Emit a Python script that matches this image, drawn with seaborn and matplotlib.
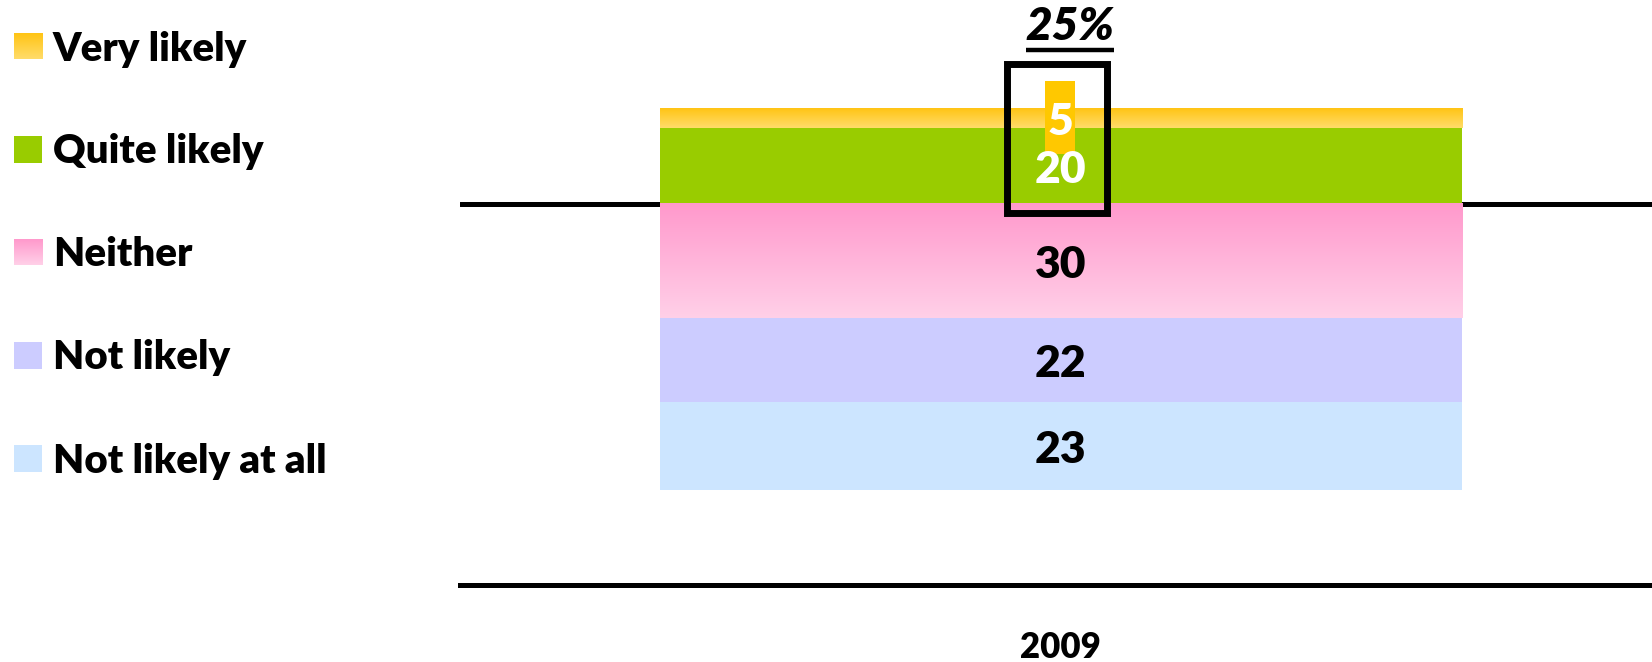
import numpy as np
import matplotlib.pyplot as plt
import seaborn as sns
from matplotlib.colors import LinearSegmentedColormap
from matplotlib.patches import Rectangle

# data
year = ["2009"]
categories = ["Very likely", "Quite likely", "Neither", "Not likely", "Not likely at all"]
values = [5, 20, 30, 22, 23]
signs = [1, 1, -1, -1, -1]          # above / below the zero line
colors = ["#FFC000", "#99CC00", "#FF99CC", "#CCCCFF", "#CCE5FF"]
label_colors = ["white", "white", "black", "black", "black"]
gradients = {"Very likely": ("#FFC414", "#FFDC6A"), "Neither": ("#FF99CC", "#FFD0E8")}
headline = "25%"

sns.set_theme(style="white")
plt.rcParams['font.family'] = ['Lato', 'DejaVu Sans']
plt.rcParams['text.color'] = 'black'
plt.rcParams['xtick.color'] = 'black'
WEIGHT = 'heavy'

W, H = 1652, 662
fig = plt.figure(figsize=(W / 100, H / 100), dpi=100)
ax = fig.add_axes([460 / W, 77 / H, 1192 / W, 585 / H])

# cumulative segments, inner to outer on each side
pos = [i for i, s in enumerate(signs) if s > 0][::-1]
neg = [i for i, s in enumerate(signs) if s < 0]
segments = {}
for side in (pos, neg):
    run = 0
    for i in side:
        segments[i] = (signs[i] * run, signs[i] * (run + values[i]))
        run += values[i]

bar_w = 0.673
z = 1.0
for side in (pos, neg):
    for i in reversed(side):  # outer bars first, inner ones drawn over them
        sns.barplot(x=year, y=[segments[i][1]], color=colors[i], width=bar_w,
                    saturation=1, errorbar=None, ax=ax)
        p = ax.patches[-1]
        p.set_zorder(z)
        p.set_linewidth(0)
        z += 0.1
        if categories[i] in gradients:
            top, bot = gradients[categories[i]]
            cmap = LinearSegmentedColormap.from_list(categories[i], [top, bot])
            lo, hi = sorted(segments[i])
            ax.imshow(np.linspace(0, 1, 256).reshape(-1, 1), cmap=cmap, aspect='auto',
                      extent=(p.get_x(), p.get_x() + p.get_width(), lo, hi),
                      origin='upper', zorder=z, interpolation='bilinear')
            z += 0.1

ax.axhline(0, color="black", lw=3.6, zorder=0.5)

# value labels
for i, v in enumerate(values):
    mid = sum(segments[i]) / 2
    ax.text(0, mid - 1.0, str(v), ha='center', va='center', fontsize=32,
            fontweight=WEIGHT, color=label_colors[i], zorder=8)

# highlight for the top value and box around the "likely" values
ax.add_patch(Rectangle((-0.0132, 13.1), 0.0252, 19.2, facecolor="#FFC800",
                       edgecolor='none', zorder=7))
ax.add_patch(Rectangle((-0.0447, -2.5), 0.0831, 39.1, facecolor='none',
                       edgecolor='black', lw=5, zorder=9))

t = ax.text(0.0077, 46.5, headline, ha='center', va='center', fontsize=33,
            fontweight=WEIGHT, fontstyle='italic', zorder=9)

ax.set_xlim(-0.504, 0.496)
ax.set_ylim(-100, 53.5)
ax.set_xlabel("")
ax.set_ylabel("")
ax.set_yticks([])
ax.tick_params(axis='x', length=0, pad=33, labelsize=25)
for lab in ax.get_xticklabels():
    lab.set_fontweight(WEIGHT)
for s in ("top", "left", "right"):
    ax.spines[s].set_visible(False)
ax.spines["bottom"].set_color("black")
ax.spines["bottom"].set_linewidth(3.6)

# underline the headline
fig.canvas.draw()
bb = t.get_window_extent().transformed(ax.transData.inverted())
ax.plot([bb.x0, bb.x1], [40.5, 40.5], color='black', lw=3.2, solid_capstyle='butt',
        zorder=9, clip_on=False)

# legend
lax = fig.add_axes([0, 0, 460 / W, 1])
lax.set_xlim(0, 460)
lax.set_ylim(H, 0)
lax.axis('off')
for k, name in enumerate(categories):
    cy = 46 + k * 103
    if name in gradients:
        top, bot = gradients[name]
        cmap = LinearSegmentedColormap.from_list(name + "_leg", [top, bot])
        lax.imshow(np.linspace(0, 1, 64).reshape(-1, 1), cmap=cmap, aspect='auto',
                   extent=(14, 42, cy + 13, cy - 13), origin='upper')
    else:
        lax.add_patch(Rectangle((14, cy - 13), 28, 27, facecolor=colors[k], edgecolor='none'))
    lax.text(53, cy + 14.5, name, ha='left', va='baseline', fontsize=29, fontweight=WEIGHT)
lax.set_xlim(0, 460)
lax.set_ylim(H, 0)

fig.savefig("out.png", dpi=100)
